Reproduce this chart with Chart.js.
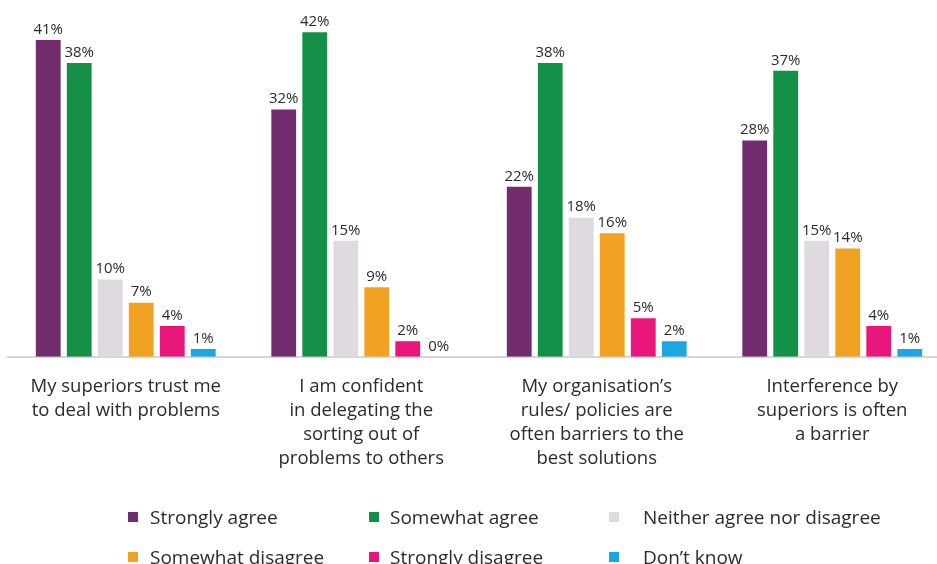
<!DOCTYPE html>
<html>
<head>
<meta charset="utf-8">
<script src="https://cdn.jsdelivr.net/npm/chart.js@4/dist/chart.umd.min.js"></script>
<style>
  html, body { margin: 0; padding: 0; background: #fff; overflow: hidden; }
  #wrap { position: relative; width: 960px; height: 564px; }
  #chart-box { position: absolute; left: 0; top: 0; width: 960px; height: 481px; }
  #legend { position: absolute; left: 0; top: 0; width: 937px; height: 564px; pointer-events: none;
    font-family: "Open Sans", sans-serif; font-size: 19px; color: #2b2b2b; }
  .lg-item { position: absolute; display: flex; align-items: center; white-space: nowrap; }
  .lg-box { width: 10px; height: 10px; display: inline-block; }
</style>
</head>
<body>
<div id="wrap">
  <div id="chart-box"><canvas id="chart"></canvas></div>
  <div id="legend"></div>
</div>
<script>
  /* ---------- Data ---------- */
  const CATEGORIES = [
    ['My superiors trust me', 'to deal with problems'],
    ['I am confident', 'in delegating the', 'sorting out of', 'problems to others'],
    ['My organisation\u2019s', 'rules/ policies are', 'often barriers to the', 'best solutions'],
    ['Interference by', 'superiors is often', 'a barrier'],
  ];
  const SERIES = ['Strongly agree', 'Somewhat agree', 'Neither agree nor disagree',
    'Somewhat disagree', 'Strongly disagree', 'Don\u2019t know'];
  const STRONGLY_AGREE = [41, 32, 22, 28];
  const SOMEWHAT_AGREE = [38, 42, 38, 37];
  const NEITHER = [10, 15, 18, 15];
  const SOMEWHAT_DISAGREE = [7, 9, 16, 14];
  const STRONGLY_DISAGREE = [4, 2, 5, 4];
  const DONT_KNOW = [1, 0, 2, 1];
  const COLORS = ['#722c6d', '#138f47', '#dedadf', '#f2a222', '#e8157a', '#1ba8e2'];

  const TEXT = '#2b2b2b';
  const FONT = '"Open Sans", sans-serif';

  /* ---------- Value labels above each bar ---------- */
  const valueLabels = {
    id: 'valueLabels',
    afterDatasetsDraw(chart) {
      const ctx = chart.ctx;
      ctx.save();
      ctx.font = '15px ' + FONT;
      ctx.fillStyle = TEXT;
      ctx.textAlign = 'center';
      ctx.textBaseline = 'bottom';
      chart.data.datasets.forEach((ds, i) => {
        chart.getDatasetMeta(i).data.forEach((bar, j) => {
          ctx.fillText(ds.data[j] + '%', bar.x, bar.y - 3);
        });
      });
      ctx.restore();
    },
  };

  const values = [STRONGLY_AGREE, SOMEWHAT_AGREE, NEITHER, SOMEWHAT_DISAGREE, STRONGLY_DISAGREE, DONT_KNOW];

  new Chart(document.getElementById('chart'), {
    type: 'bar',
    data: {
      labels: CATEGORIES,
      datasets: values.map((v, i) => ({
        label: SERIES[i],
        data: v,
        backgroundColor: COLORS[i],
        barPercentage: 0.8,
        categoryPercentage: 0.79,
      })),
    },
    options: {
      responsive: true,
      maintainAspectRatio: false,
      animation: false,
      layout: { padding: { left: 8, right: 10, top: 9, bottom: 0 } },
      plugins: { legend: { display: false }, tooltip: { enabled: false } },
      scales: {
        x: {
          grid: { display: false },
          border: { color: '#d6d6d6', width: 2 },
          ticks: {
            color: TEXT,
            font: { family: FONT, size: 18.5, lineHeight: 1.3 },
            padding: 10,
            maxRotation: 0,
            autoSkip: false,
          },
        },
        y: { display: false, min: 0, max: 45 },
      },
    },
    plugins: [valueLabels],
  });

  /* ---------- Legend (two rows of three) ---------- */
  const LEGEND_POS = [
    [128, 517, 150], [369, 517, 390], [609, 517, 643],
    [128, 557, 150], [369, 557, 390], [609, 557, 643],
  ];
  const legend = document.getElementById('legend');
  SERIES.forEach((name, i) => {
    const [bx, cy, tx] = LEGEND_POS[i];
    const box = document.createElement('div');
    box.className = 'lg-box';
    box.style.cssText = `position:absolute;left:${bx}px;top:${cy - 5}px;background:${COLORS[i]}`;
    legend.appendChild(box);
    const txt = document.createElement('div');
    txt.className = 'lg-item';
    txt.style.cssText = `left:${tx}px;top:${cy - 13}px;height:26px`;
    txt.textContent = name;
    legend.appendChild(txt);
  });
</script>
</body>
</html>
